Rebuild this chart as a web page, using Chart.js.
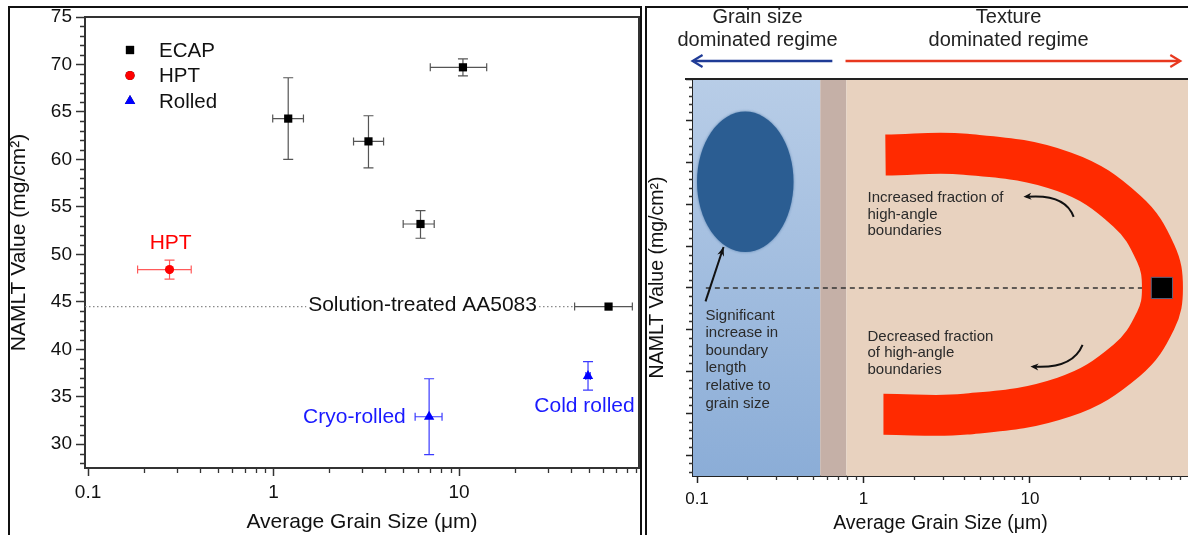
<!DOCTYPE html>
<html>
<head>
<meta charset="utf-8">
<script src="https://cdn.jsdelivr.net/npm/chart.js@4.4.1/dist/chart.umd.min.js"></script>
<style>
html,body{margin:0;padding:0;background:#fff;}
body{width:1188px;height:535px;overflow:hidden;position:relative;}
#p1{position:absolute;left:8px;top:6px;width:630px;height:540px;border:2px solid #111;}
#p2{position:absolute;left:645px;top:6px;width:560px;height:540px;border:2px solid #111;}
canvas{position:absolute;}
#c1{left:10px;top:8px;}
#c2{left:647px;top:8px;}
</style>
</head>
<body>
<div id="p1"></div><div id="p2"></div>
<canvas id="c1" width="630" height="527"></canvas>
<canvas id="c2" width="541" height="527"></canvas>
<script>
const FONT = '"Liberation Sans", Arial, Helvetica, sans-serif';

// ================= LEFT PANEL DATA =================
const seriesNames = ['ECAP', 'HPT', 'Rolled'];
const seriesColors = ['#000000', '#ff0000', '#0000ff'];
const errColors = ['#555555', '#ff5a5a', '#3a3aff'];

const ecapX   = [1.2, 3.25, 6.2, 10.5, 64];
const ecapY   = [64.3, 61.9, 53.2, 69.7, 44.5];
const ecapXLo = [0.99, 2.70, 5.0, 7.0, 42];
const ecapXHi = [1.45, 3.92, 7.35, 14.1, 86];
const ecapYLo = [60.0, 59.1, 51.7, 68.8, 44.5];
const ecapYHi = [68.6, 64.6, 54.6, 70.6, 44.5];

const hptX   = [0.275];
const hptY   = [48.4];
const hptXLo = [0.185];
const hptXHi = [0.36];
const hptYLo = [47.4];
const hptYHi = [49.4];

const rolledX   = [6.9, 49.6];
const rolledY   = [32.9, 37.2];
const rolledXLo = [5.8, 48.3];
const rolledXHi = [8.1, 51.0];
const rolledYLo = [28.9, 35.7];
const rolledYHi = [36.9, 38.7];

const refLevel = 44.5;               // Solution-treated AA5083
const refSegX  = [0.0963, 1.5, 27, 42];

const xMinL = 0.0963, xMaxL = 93.4;
const yMinL = 27.5,   yMaxL = 75;
const xMajorTicks = [0.1, 1, 10];
const xTickLabels = ['0.1', '1', '10'];
const yMajorTicks = [30, 35, 40, 45, 50, 55, 60, 65, 70, 75];
const yTickLabels = ['30', '35', '40', '45', '50', '55', '60', '65', '70', '75'];
const xMinorTicks = [0.2,0.3,0.4,0.5,0.6,0.7,0.8,0.9,2,3,4,5,6,7,8,9,20,30,40,50,60,70,80,90];
const yMinorTicks = [28,29,31,32,33,34,36,37,38,39,41,42,43,44,46,47,48,49,51,52,53,54,56,57,58,59,61,62,63,64,66,67,68,69,71,72,73,74];

const leftNotes = [
  {text: 'HPT', x: 0.279, y: 51.2, color: '#ff0000'},
  {text: 'Solution-treated AA5083', x: 6.36, y: 44.6, color: '#111'},
  {text: 'Cryo-rolled', x: 2.73, y: 32.9, color: '#1a1aff'},
  {text: 'Cold rolled', x: 47.5, y: 34.0, color: '#1a1aff'}
];

// ================= RIGHT PANEL DATA =================
const xMinR = 0.0946, xMaxR = 89;
const regimeEdges = [0.55, 0.79];            // grain-size regime | transition | texture regime
const regimeColors = ['#c5b0a7', '#e8d2bf'];
const bandX = [1.356, 4.10, 16.0, 38.2, 56.9, 62.5, 56.9, 38.2, 16.0, 4.10, 1.318];
const bandY = [65.9, 66.0, 63.9, 59.2, 54.15, 50.0, 46.1, 41.35, 36.94, 34.9, 34.9];
const ellipseBox = {xMin: 0.1, xMax: 0.38, yMin: 54.3, yMax: 71.1};
const refX = [0.113, 60];
const refY = [50, 50];
const squareX = [62];
const squareY = [50];
const rightNotes = [
  {lines: ['Increased fraction of', 'high-angle', 'boundaries'], x: 1.057, y: 60.8},
  {lines: ['Decreased fraction', 'of high-angle', 'boundaries'], x: 1.057, y: 44.2},
  {lines: ['Significant', 'increase in', 'boundary', 'length', 'relative to', 'grain size'], x: 0.1125, y: 46.7}
];
const curvedArrows = [
  {from: [18.3, 58.5], ctrl: [16.3, 61.3], to: [9.14, 60.9]},
  {from: [20.7, 43.2], ctrl: [18.0, 40.3], to: [10.07, 40.6]}
];
const pointerArrow = {from: [0.1125, 48.4], to: [0.1443, 54.9]};
const headerBlocks = [
  {lines: ['Grain size', 'dominated regime'], x: 0.231},
  {lines: ['Texture', 'dominated regime'], x: 7.44}
];
const headerArrows = [
  {from: 0.65, to: 0.094, color: '#1f3b96'},
  {from: 0.78, to: 80, color: '#e8381f'}
];

// ================= HELPERS =================
function pts(xs, ys) { return xs.map((x, i) => ({x: x, y: ys[i]})); }
function noPad(s) { s.paddingLeft = 0; s.paddingRight = 0; s.paddingTop = 0; s.paddingBottom = 0; }

function arrowHead(ctx, x, y, ang, len, wid, color) {
  ctx.save();
  ctx.fillStyle = color;
  ctx.translate(x, y); ctx.rotate(ang);
  ctx.beginPath();
  ctx.moveTo(0, 0); ctx.lineTo(-len, -wid); ctx.lineTo(-len * 0.7, 0); ctx.lineTo(-len, wid);
  ctx.closePath(); ctx.fill();
  ctx.restore();
}

function minorTicks(chart, xm, ym, len) {
  const ctx = chart.ctx, a = chart.chartArea, xs = chart.scales.x, ys = chart.scales.y;
  ctx.save(); ctx.strokeStyle = '#333'; ctx.lineWidth = 1.3;
  ctx.beginPath();
  xm.forEach(v => {
    if (v < xs.min || v > xs.max) return;
    const p = Math.round(xs.getPixelForValue(v)) + 0.5;
    ctx.moveTo(p, a.bottom); ctx.lineTo(p, a.bottom + len);
  });
  ym.forEach(v => {
    if (v < ys.min || v > ys.max) return;
    const p = Math.round(ys.getPixelForValue(v)) + 0.5;
    ctx.moveTo(a.left, p); ctx.lineTo(a.left - len, p);
  });
  ctx.stroke(); ctx.restore();
}

// ================= LEFT CHART =================
const leftPlugin = {
  id: 'leftExtras',
  beforeDatasetsDraw(chart) {
    const ctx = chart.ctx, xs = chart.scales.x, ys = chart.scales.y;
    chart.data.datasets.forEach(ds => {
      if (!ds.err) return;
      ctx.save(); ctx.strokeStyle = ds.errColor; ctx.lineWidth = 1.2;
      ds.data.forEach((p, i) => {
        const cx = xs.getPixelForValue(p.x), cy = ys.getPixelForValue(p.y);
        const x0 = xs.getPixelForValue(ds.err.xLo[i]), x1 = xs.getPixelForValue(ds.err.xHi[i]);
        const y0 = ys.getPixelForValue(ds.err.yLo[i]), y1 = ys.getPixelForValue(ds.err.yHi[i]);
        ctx.beginPath();
        ctx.moveTo(x0, cy); ctx.lineTo(x1, cy);
        ctx.moveTo(x0, cy - 4); ctx.lineTo(x0, cy + 4);
        ctx.moveTo(x1, cy - 4); ctx.lineTo(x1, cy + 4);
        if (Math.abs(y1 - y0) > 1) {
          ctx.moveTo(cx, y0); ctx.lineTo(cx, y1);
          ctx.moveTo(cx - 5, y0); ctx.lineTo(cx + 5, y0);
          ctx.moveTo(cx - 5, y1); ctx.lineTo(cx + 5, y1);
        }
        ctx.stroke();
      });
      ctx.restore();
    });
  },
  afterDatasetsDraw(chart) {
    const ctx = chart.ctx, xs = chart.scales.x, ys = chart.scales.y, a = chart.chartArea;
    ctx.save();
    ctx.font = '21px ' + FONT; ctx.textAlign = 'center'; ctx.textBaseline = 'middle';
    leftNotes.forEach(n => {
      ctx.fillStyle = n.color;
      ctx.fillText(n.text, xs.getPixelForValue(n.x), ys.getPixelForValue(n.y));
    });
    ctx.restore();
    // legend
    ctx.save();
    ctx.font = '20.5px ' + FONT; ctx.textBaseline = 'middle'; ctx.textAlign = 'left';
    chart.data.datasets.slice(0, 3).forEach((ds, i) => {
      const lx = a.left + 45, ly = a.top + 33 + i * 25.5;
      Chart.helpers.drawPoint(ctx, {pointStyle: ds.pointStyle, radius: ds.pointRadius, borderWidth: 0, rotation: 0}, lx, ly);
      ctx.fillStyle = ds.backgroundColor; ctx.fill();
      ctx.fillStyle = '#111';
      ctx.fillText(ds.label, a.left + 74, ly + 1);
    });
    ctx.restore();
    // frame top & right
    ctx.save(); ctx.strokeStyle = '#333'; ctx.lineWidth = 2;
    ctx.beginPath();
    ctx.moveTo(a.left, a.top); ctx.lineTo(a.right, a.top); ctx.lineTo(a.right, a.bottom);
    ctx.stroke(); ctx.restore();
    minorTicks(chart, xMinorTicks, yMinorTicks, 5);
  }
};

new Chart(document.getElementById('c1'), {
  type: 'scatter',
  data: {
    datasets: [
      {label: seriesNames[0], data: pts(ecapX, ecapY), pointStyle: 'rect', pointRadius: 5.8, pointHoverRadius: 5.8,
       backgroundColor: seriesColors[0], borderColor: seriesColors[0], borderWidth: 0,
       err: {xLo: ecapXLo, xHi: ecapXHi, yLo: ecapYLo, yHi: ecapYHi}, errColor: errColors[0]},
      {label: seriesNames[1], data: pts(hptX, hptY), pointStyle: 'circle', pointRadius: 4.6,
       backgroundColor: seriesColors[1], borderColor: seriesColors[1], borderWidth: 0,
       err: {xLo: hptXLo, xHi: hptXHi, yLo: hptYLo, yHi: hptYHi}, errColor: errColors[1]},
      {label: seriesNames[2], data: pts(rolledX, rolledY), pointStyle: 'triangle', pointRadius: 6,
       backgroundColor: seriesColors[2], borderColor: seriesColors[2], borderWidth: 0,
       err: {xLo: rolledXLo, xHi: rolledXHi, yLo: rolledYLo, yHi: rolledYHi}, errColor: errColors[2]},
      {label: 'ref', data: [{x: refSegX[0], y: refLevel}, {x: refSegX[1], y: refLevel}, {x: 5, y: null},
                             {x: refSegX[2], y: refLevel}, {x: refSegX[3], y: refLevel}],
       showLine: true, spanGaps: false, pointRadius: 0, borderColor: '#8a8a8a', borderWidth: 1.2, borderDash: [1.5, 2.5]}
    ]
  },
  options: {
    responsive: false, animation: false, devicePixelRatio: 1,
    layout: {padding: {top: 9, right: 1, left: 0, bottom: 0}, autoPadding: false},
    plugins: {legend: {display: false}, tooltip: {enabled: false}},
    scales: {
      x: {
        type: 'logarithmic', min: xMinL, max: xMaxL,
        afterBuildTicks: s => { s.ticks = xMajorTicks.map(v => ({value: v})); },
        afterFit: s => { s.height = 67; noPad(s); },
        ticks: {callback: (v, i) => xTickLabels[i], font: {size: 19, family: FONT}, color: '#111', padding: 5, maxRotation: 0, autoSkip: false},
        grid: {drawOnChartArea: false, tickLength: 8, tickColor: '#333', tickWidth: 1.5},
        border: {color: '#333', width: 2},
        title: {display: true, text: 'Average Grain Size (μm)', font: {size: 21, family: FONT}, color: '#111', padding: {top: 0, bottom: 0}}
      },
      y: {
        type: 'linear', min: yMinL, max: yMaxL,
        afterBuildTicks: s => { s.ticks = yMajorTicks.map(v => ({value: v})); },
        afterFit: s => { s.width = 75; noPad(s); },
        ticks: {callback: (v, i) => yTickLabels[i], font: {size: 19, family: FONT}, color: '#111', padding: 4, autoSkip: false},
        grid: {drawOnChartArea: false, tickLength: 9, tickColor: '#333', tickWidth: 1.5},
        border: {color: '#333', width: 2},
        title: {display: true, text: 'NAMLT Value (mg/cm²)', font: {size: 21, family: FONT}, color: '#111', padding: {top: -3, bottom: 0}}
      }
    }
  },
  plugins: [leftPlugin]
});

// ================= RIGHT CHART =================
const rightPlugin = {
  id: 'rightExtras',
  beforeDatasetsDraw(chart) {
    const ctx = chart.ctx, xs = chart.scales.x, ys = chart.scales.y, a = chart.chartArea;
    const e0 = xs.getPixelForValue(regimeEdges[0]), e1 = xs.getPixelForValue(regimeEdges[1]);
    ctx.save();
    const g = ctx.createLinearGradient(0, a.top, 0, a.bottom);
    g.addColorStop(0, '#b8cde7'); g.addColorStop(1, '#8badd7');
    ctx.fillStyle = g; ctx.fillRect(a.left, a.top, e0 - a.left, a.bottom - a.top);
    ctx.fillStyle = regimeColors[0]; ctx.fillRect(e0, a.top, e1 - e0, a.bottom - a.top);
    ctx.fillStyle = regimeColors[1]; ctx.fillRect(e1, a.top, a.right - e1, a.bottom - a.top);
    const ex0 = xs.getPixelForValue(ellipseBox.xMin), ex1 = xs.getPixelForValue(ellipseBox.xMax);
    const ey0 = ys.getPixelForValue(ellipseBox.yMax), ey1 = ys.getPixelForValue(ellipseBox.yMin);
    ctx.fillStyle = '#2b5d92';
    ctx.shadowColor = 'rgba(43,93,146,0.6)'; ctx.shadowBlur = 3;
    ctx.beginPath();
    ctx.ellipse((ex0 + ex1) / 2, (ey0 + ey1) / 2, (ex1 - ex0) / 2, (ey1 - ey0) / 2, 0, 0, Math.PI * 2);
    ctx.fill();
    ctx.restore();
  },
  afterDatasetsDraw(chart) {
    const ctx = chart.ctx, xs = chart.scales.x, ys = chart.scales.y, a = chart.chartArea;
    const X = v => xs.getPixelForValue(v), Y = v => ys.getPixelForValue(v);
    ctx.save();
    ctx.font = '15px ' + FONT; ctx.fillStyle = '#2a2a2a'; ctx.textAlign = 'left'; ctx.textBaseline = 'middle';
    rightNotes.forEach((n, k) => {
      const step = k === 2 ? 17.6 : 16.8;
      n.lines.forEach((t, i) => ctx.fillText(t, X(n.x), Y(n.y) + i * step));
    });
    ctx.restore();
    ctx.save(); ctx.strokeStyle = '#111'; ctx.lineWidth = 2;
    curvedArrows.forEach(c => {
      const f = [X(c.from[0]), Y(c.from[1])], m = [X(c.ctrl[0]), Y(c.ctrl[1])], t = [X(c.to[0]), Y(c.to[1])];
      ctx.beginPath(); ctx.moveTo(f[0], f[1]); ctx.quadraticCurveTo(m[0], m[1], t[0] + 3, t[1]); ctx.stroke();
      arrowHead(ctx, t[0], t[1], Math.atan2(t[1] - m[1], t[0] - m[0]), 8, 3.5, '#111');
    });
    const pf = [X(pointerArrow.from[0]), Y(pointerArrow.from[1])], pt = [X(pointerArrow.to[0]), Y(pointerArrow.to[1])];
    ctx.beginPath(); ctx.moveTo(pf[0], pf[1]); ctx.lineTo(pt[0], pt[1]); ctx.stroke();
    arrowHead(ctx, pt[0], pt[1], Math.atan2(pt[1] - pf[1], pt[0] - pf[0]), 9, 3.5, '#111');
    ctx.restore();
    ctx.save(); ctx.strokeStyle = '#222'; ctx.lineWidth = 2;
    ctx.beginPath(); ctx.moveTo(a.left - 8, a.top); ctx.lineTo(a.right, a.top); ctx.stroke(); ctx.restore();
    minorTicks(chart, xMinorTicks, yMinorTicks, 4);
    ctx.save();
    ctx.font = '20px ' + FONT; ctx.fillStyle = '#222'; ctx.textAlign = 'center'; ctx.textBaseline = 'middle';
    headerBlocks.forEach(h => {
      h.lines.forEach((t, i) => ctx.fillText(t, X(h.x), a.top - 62 + i * 23));
    });
    const ay = a.top - 18;
    headerArrows.forEach(h => {
      const x0 = X(h.from), x1 = X(h.to), dir = x1 > x0 ? 1 : -1;
      ctx.strokeStyle = h.color; ctx.lineWidth = 2.5;
      ctx.beginPath(); ctx.moveTo(x0, ay); ctx.lineTo(x1 - dir * 2, ay); ctx.stroke();
      ctx.lineWidth = 2.2;
      ctx.beginPath(); ctx.moveTo(x1 - dir * 10, ay - 6); ctx.lineTo(x1, ay); ctx.lineTo(x1 - dir * 10, ay + 6); ctx.stroke();
    });
    ctx.restore();
  }
};

new Chart(document.getElementById('c2'), {
  type: 'scatter',
  data: {
    datasets: [
      {label: 'square', data: pts(squareX, squareY), pointStyle: 'rect', pointRadius: 15, pointHoverRadius: 15,
       backgroundColor: '#000', borderColor: '#55627e', borderWidth: 1},
      {label: 'band', data: pts(bandX, bandY), showLine: true, tension: 0.4, pointRadius: 0,
       borderColor: '#ff2a00', borderWidth: 41, borderCapStyle: 'butt', borderJoinStyle: 'round', fill: false},
      {label: 'ref', data: pts(refX, refY), showLine: true, pointRadius: 0,
       borderColor: '#333', borderWidth: 1.4, borderDash: [5, 4]}
    ]
  },
  options: {
    responsive: false, animation: false, devicePixelRatio: 1,
    layout: {padding: {top: 71, right: 0, left: 0, bottom: 0}, autoPadding: false},
    plugins: {legend: {display: false}, tooltip: {enabled: false}},
    scales: {
      x: {
        type: 'logarithmic', min: xMinR, max: xMaxR,
        afterBuildTicks: s => { s.ticks = xMajorTicks.map(v => ({value: v})); },
        afterFit: s => { s.height = 59; noPad(s); },
        ticks: {callback: (v, i) => xTickLabels[i], font: {size: 17, family: FONT}, color: '#111', padding: 6, maxRotation: 0, autoSkip: false},
        grid: {drawOnChartArea: false, tickLength: 7, tickColor: '#222', tickWidth: 1.5},
        border: {color: '#222', width: 2},
        title: {display: true, text: 'Average Grain Size (μm)', font: {size: 19.5, family: FONT}, color: '#111', padding: {top: 0, bottom: 0}}
      },
      y: {
        type: 'linear', min: yMinL, max: yMaxL,
        afterBuildTicks: s => { s.ticks = yMajorTicks.map(v => ({value: v})); },
        afterFit: s => { s.width = 46; noPad(s); },
        ticks: {display: false},
        grid: {drawOnChartArea: false, tickLength: 7, tickColor: '#222', tickWidth: 1.5},
        border: {color: '#222', width: 2},
        title: {display: true, text: 'NAMLT Value (mg/cm²)', font: {size: 19.5, family: FONT}, color: '#111', padding: {top: -1.3, bottom: 0}}
      }
    }
  },
  plugins: [rightPlugin]
});
</script>
</body>
</html>
